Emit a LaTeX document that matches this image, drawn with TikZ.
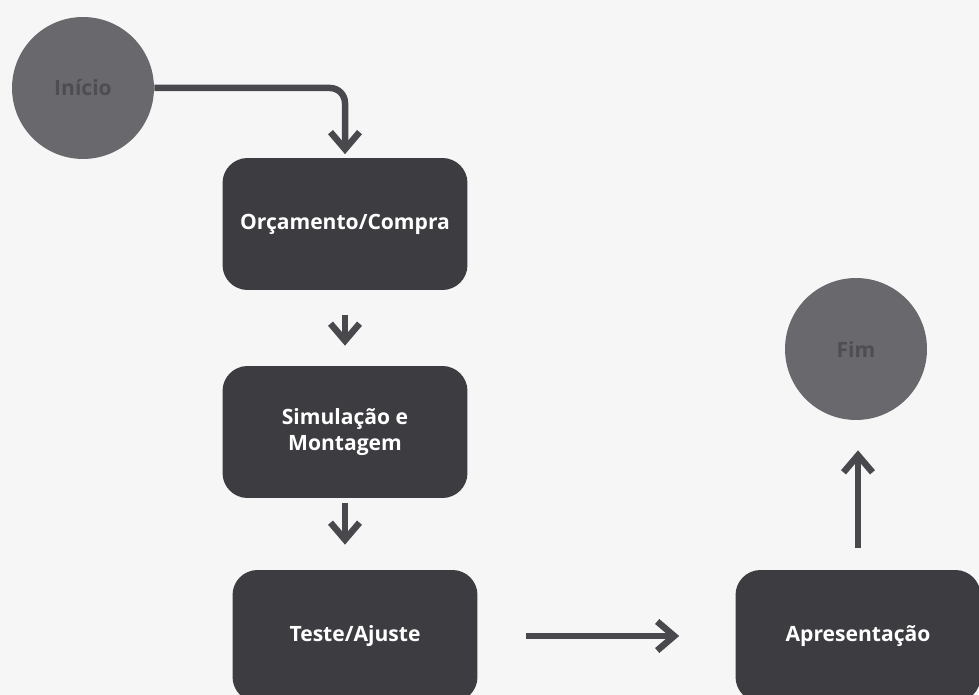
\documentclass[tikz,border=0pt]{standalone}
\usepackage{fontspec}
\setmainfont{Open Sans}
\usetikzlibrary{arrows.meta}
\definecolor{boxgray}{HTML}{3C3C41}
\definecolor{circgray}{HTML}{69696D}
\definecolor{circtext}{HTML}{4E4E52}
\definecolor{arrowgray}{HTML}{48484D}
\definecolor{paper}{HTML}{F6F6F6}

\begin{document}
\begin{tikzpicture}[x=0.02cm, y=-0.02cm,
  procbox/.style={draw=none, fill=boxgray, rounded corners=0.5cm, minimum width=4.9cm, minimum height=2.64cm, align=center, text=white, font=\bfseries\fontsize{12}{15}\selectfont, inner sep=0pt},
  endcircle/.style={circle, fill=circgray, minimum size=2.84cm, inner sep=0pt, text=circtext, font=\bfseries\fontsize{12}{15}\selectfont},
  flowarrow/.style={draw=arrowgray, line width=0.13cm, -{Straight Barb[length=0.34cm, width=0.58cm]}}]
\useasboundingbox (0,0) rectangle (979,695);
\clip (0,0) rectangle (979,695);
\fill[paper] (0,0) rectangle (979,695);

\node[endcircle] (inicio) at (83,88) {Início};
\node[procbox] (orcamento) at (345,224) {Orçamento/Compra};
\node[procbox] (simulacao) at (345,432) {Simulação e\\Montagem};
\node[procbox] (teste) at (355,636) {Teste/Ajuste};
\node[procbox] (apresentacao) at (858,636) {Apresentação};
\node[endcircle] (fim) at (856,349) {Fim};

\draw[flowarrow, rounded corners=0.3cm, shorten >=2pt] (inicio.east) -| (orcamento.north);
\draw[flowarrow, shorten <=0.5cm, shorten >=0.4cm] (orcamento.south) -- (simulacao.north);
\draw[flowarrow, shorten <=0.1cm, shorten >=0.5cm] (simulacao.south) -- (simulacao.south |- teste.north);
\draw[flowarrow, shorten <=0.96cm, shorten >=1.12cm] (teste.east) -- (apresentacao.west);
\draw[flowarrow, shorten <=0.44cm, shorten >=0.6cm] (apresentacao.north) -- (apresentacao.north |- fim.south);
\end{tikzpicture}
\end{document}
